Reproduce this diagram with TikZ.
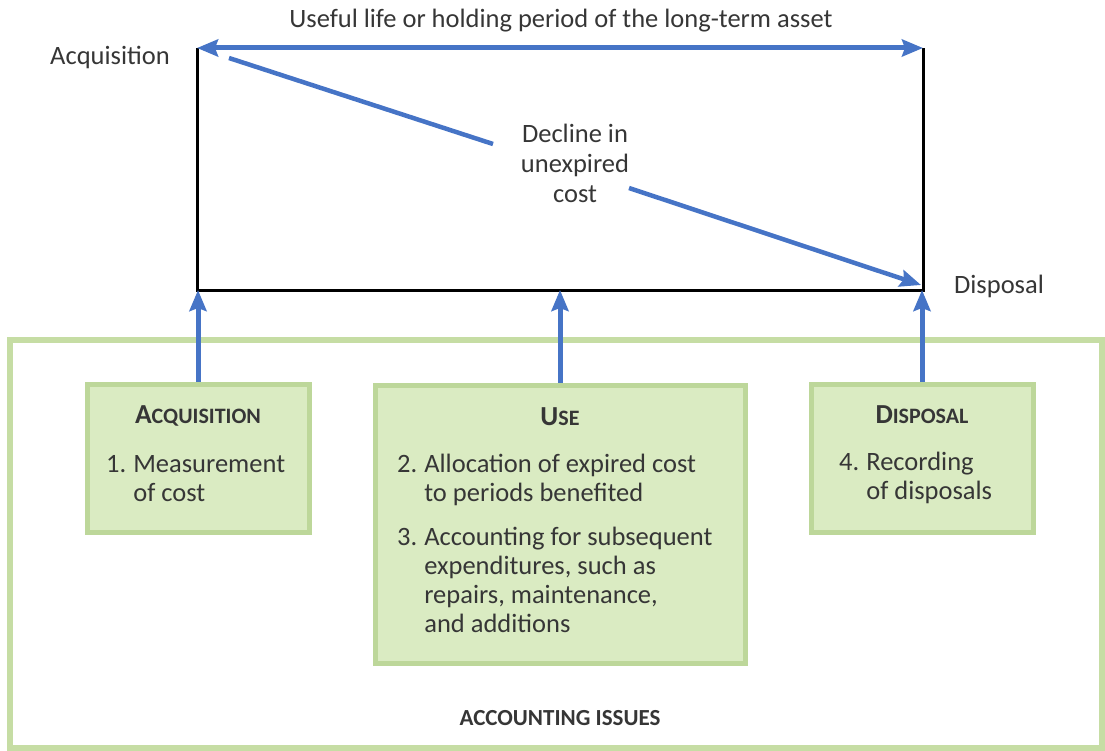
\documentclass[tikz,border=0pt]{standalone}
\usepackage{fontspec}
\setmainfont{Carlito}
\usetikzlibrary{arrows.meta}

\definecolor{arrowblue}{HTML}{4674C6}
\definecolor{framegreen}{HTML}{C6DDA4}
\definecolor{boxfill}{HTML}{DAEBC2}
\definecolor{boxedge}{HTML}{BDD79A}
\definecolor{inkgray}{HTML}{363636}

% small-caps style heading: large initial, smaller capitals after it
\newcommand\capshead[2]{{\fontsize{27.5}{29}\selectfont #1}{\fontsize{22}{29}\selectfont #2}}

\tikzset{
  bodytext/.style={text=inkgray, font=\fontsize{26.5}{29}\selectfont, inner sep=0pt},
  headtext/.style={text=inkgray, font=\bfseries, inner sep=0pt, anchor=base},
  blueline/.style={draw=arrowblue, line width=5pt},
  bluetip/.style={blueline, -{Stealth[length=21pt, width=17pt, inset=3pt]}},
  issuebox/.style={draw=boxedge, fill=boxfill, line width=5pt, rectangle, inner sep=0pt},
  outline/.style={draw=black, line width=3pt},
}

\begin{document}
\begin{tikzpicture}[x=1pt, y=-1pt]
  \useasboundingbox (0,0) rectangle (1105,751);

  % frame around the accounting issues
  \draw[framegreen, line width=5.5pt] (10,340) rectangle (1102,748);

  % corners of the asset's life span
  \coordinate (tl) at (197,48);
  \coordinate (tr) at (923,48);
  \coordinate (bl) at (197,290);
  \coordinate (br) at (923,290);

  \draw[outline, line join=miter] (tl) -- (bl) -- (br) -- (tr);
  \draw[blueline, {Stealth[length=21pt, width=17pt, inset=3pt]}-{Stealth[length=21pt, width=17pt, inset=3pt]}] (tl) -- (tr);

  \node[bodytext, anchor=base] (life) at (561,28) {Useful life or holding period of the long-term asset};
  \node[bodytext, anchor=base] (acqlabel) at (110,65) {Acquisition};
  \node[bodytext, anchor=base] (dislabel) at (999,293) {Disposal};

  % declining unexpired cost
  \node[bodytext, align=center, font=\fontsize{26.5}{30}\selectfont] (decline) at (575,163) {Decline in\\unexpired\\cost};
  \coordinate (dstart) at (229,58);
  \coordinate (dbreak1) at (493,144);
  \coordinate (dbreak2) at (629,188);
  \coordinate (dend) at (921,285);
  \draw[blueline, line width=4.5pt] (dstart) -- (dbreak1);
  \draw[blueline, line width=4.5pt, -{Stealth[length=21pt, width=17pt, inset=3pt]}] (dbreak2) -- (dend);

  % issue boxes
  \node[issuebox, minimum width=222pt, minimum height=148pt] (acqbox) at (198,458) {};
  \node[issuebox, minimum width=370pt, minimum height=278pt] (usebox) at (560,524) {};
  \node[issuebox, minimum width=222pt, minimum height=148pt] (disbox) at (922,458) {};

  \draw[bluetip] (acqbox.north) -- (acqbox.north |- bl);
  \draw[bluetip] (usebox.north) -- (usebox.north |- bl);
  \draw[bluetip] (disbox.north) -- (disbox.north |- br);

  % box contents
  \node[headtext] (acqhead) at (198,423) {\capshead{A}{CQUISITION}};
  \node[bodytext, anchor=base west] (acqitems) at (106,472)
    {\begin{tabular}[t]{@{}l@{\hspace{7pt}}l@{}}1. & Measurement\\ & of cost\end{tabular}};

  \node[headtext] (usehead) at (560,425) {\capshead{U}{SE}};
  \node[bodytext, anchor=base west] (useitems) at (397,472)
    {\begin{tabular}[t]{@{}l@{\hspace{7pt}}l@{}}
      2. & Allocation of expired cost\\
         & to periods benefited\\[15pt]
      3. & Accounting for subsequent\\
         & expenditures, such as\\
         & repairs, maintenance,\\
         & and additions
    \end{tabular}};

  \node[headtext] (dishead) at (922,423) {\capshead{D}{ISPOSAL}};
  \node[bodytext, anchor=base west] (disitems) at (839,470)
    {\begin{tabular}[t]{@{}l@{\hspace{7pt}}l@{}}4. & Recording\\ & of disposals\end{tabular}};

  \node[headtext] (issues) at (560,725) {\fontsize{23}{26}\selectfont ACCOUNTING ISSUES};
\end{tikzpicture}
\end{document}
